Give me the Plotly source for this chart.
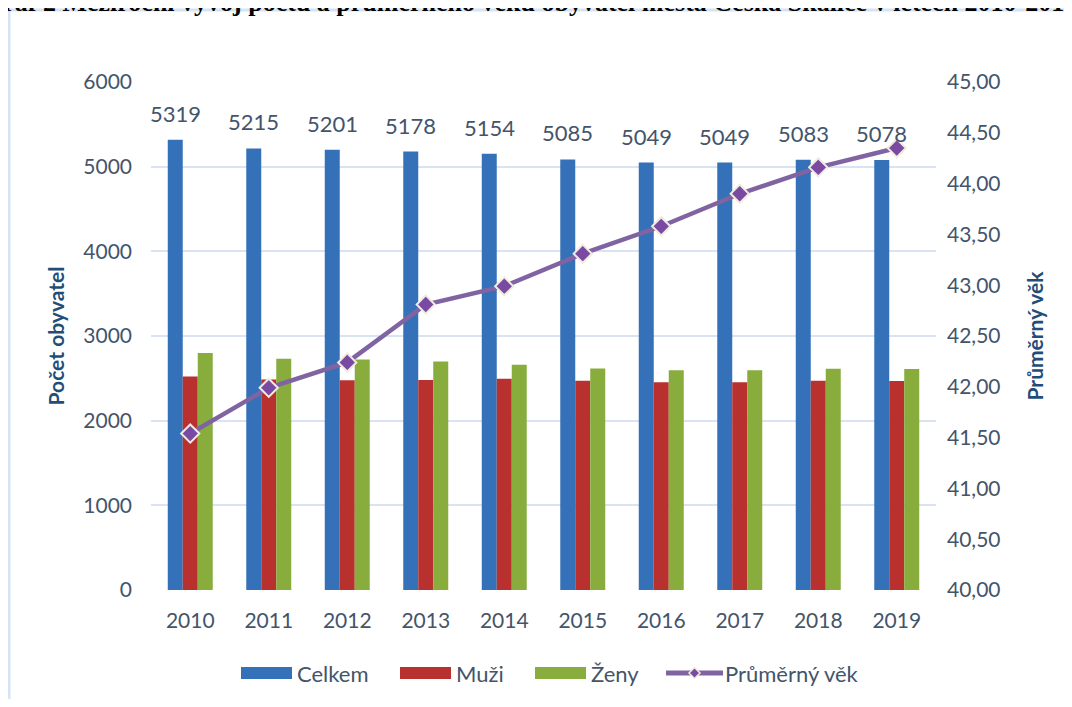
import plotly.graph_objects as go

years = ["2010", "2011", "2012", "2013", "2014", "2015", "2016", "2017", "2018", "2019"]
celkem = [5319, 5215, 5201, 5178, 5154, 5085, 5049, 5049, 5083, 5078]
muzi = [2521, 2485, 2478, 2480, 2494, 2470, 2455, 2455, 2470, 2468]
zeny = [2798, 2730, 2723, 2698, 2660, 2615, 2594, 2594, 2613, 2610]
vek = [41.54, 41.99, 42.24, 42.81, 42.99, 43.31, 43.58, 43.90, 44.16, 44.35]

left_ticks = [0, 1000, 2000, 3000, 4000, 5000, 6000]

BLUE = "#3571B8"
RED = "#B8312F"
GREEN = "#88AD3C"
PURPLE = "#8064A2"
TICK = "#44546A"
TITLE = "#1F4E79"
GRID = "#D9E3F1"
FONT = "Lato"

# the page puts the figure 8 px in from the top-left corner; keep the figure
# small enough to avoid scrollbars, plot area on screen pixels x 151..936, y 82..590
W, H = 1056, 691
L, T = 143, 74
PW, PH = 785, 508
R, B = W - L - PW, H - T - PH


def px(x):
    return (x - 151) / PW


def py(y):
    return (590 - y) / PH


fig = go.Figure()
fig.add_trace(go.Bar(x=years, y=celkem, name="Celkem", marker=dict(color=BLUE, line=dict(width=0))))
fig.add_trace(go.Bar(x=years, y=muzi, name="Muži", marker=dict(color=RED, line=dict(width=0))))
fig.add_trace(go.Bar(x=years, y=zeny, name="Ženy", marker=dict(color=GREEN, line=dict(width=0))))
fig.add_trace(go.Scatter(
    x=years, y=vek, name="Průměrný věk", yaxis="y2", mode="lines+markers",
    line=dict(color=PURPLE, width=4.5),
    marker=dict(symbol="diamond", size=14, color="#7A4AA3", line=dict(color="#EFEBDD", width=2)),
))

# data labels above Celkem bars (category axis -> annotation x is the category index)
for i, v in enumerate(celkem):
    fig.add_annotation(x=i, y=v, text=str(v), showarrow=False, yanchor="bottom",
                       xshift=-15, yshift=11, font=dict(family=FONT, size=22, color=TICK))

# chart-area frame: only the left and top edges show in the picture
FRAME = dict(color="#D6E3F4", width=3)
fig.add_shape(type="line", xref="paper", yref="paper", x0=px(9), x1=px(1070),
              y0=py(10), y1=py(10), line=FRAME, layer="below")
fig.add_shape(type="line", xref="paper", yref="paper", x0=px(9), x1=px(9),
              y0=py(10), y1=py(705), line=FRAME, layer="below")

# caption clipped at the top
fig.add_annotation(xref="paper", yref="paper", x=px(530), y=py(19), xanchor="center", yanchor="bottom",
                   text="<b>Graf 2 Meziroční vývoj počtu a průměrného věku obyvatel města Česká Skalice v letech 2010-2019</b>",
                   showarrow=False, font=dict(family="Liberation Serif", size=26, color="black"))

# legend drawn by hand to get Excel-like wide swatches
leg_y = 673
LEG_FONT = dict(family=FONT, size=22, color=TICK)
swatches = [("Celkem", BLUE, 241, 292), ("Muži", RED, 400, 451), ("Ženy", GREEN, 535, 586)]
for name, col, x0, x1 in swatches:
    fig.add_shape(type="rect", xref="paper", yref="paper", x0=px(x0), x1=px(x1),
                  y0=py(leg_y + 6), y1=py(leg_y - 6), fillcolor=col, line=dict(width=0))
    fig.add_annotation(xref="paper", yref="paper", x=px(x1 + 3), y=py(leg_y), xanchor="left",
                       yanchor="middle", text=name, showarrow=False, font=LEG_FONT)
fig.add_shape(type="line", xref="paper", yref="paper", x0=px(666), x1=px(723),
              y0=py(leg_y), y1=py(leg_y), line=dict(color=PURPLE, width=5))
cx, cy, d = 694.5, leg_y, 5.5
diamond = "M {} {} L {} {} L {} {} L {} {} Z".format(
    px(cx), py(cy - d), px(cx + d), py(cy), px(cx), py(cy + d), px(cx - d), py(cy))
fig.add_shape(type="path", xref="paper", yref="paper", path=diamond,
              fillcolor="#7A4AA3", line=dict(color="#EFEBDD", width=1.5))
fig.add_annotation(xref="paper", yref="paper", x=px(723), y=py(leg_y), xanchor="left",
                   yanchor="middle", text="Průměrný věk", showarrow=False, font=LEG_FONT)

fig.update_layout(
    width=W, height=H,
    margin=dict(l=L, r=R, t=T, b=B, autoexpand=False),
    paper_bgcolor="white", plot_bgcolor="white",
    separators=", ",
    showlegend=False,
    barmode="group", bargap=0.427, bargroupgap=0,
    font=dict(family=FONT, color=TICK),
    xaxis=dict(type="category", range=[-0.5, len(years) - 0.5], showgrid=False, showline=False,
               ticks="", tickfont=dict(family=FONT, size=21, color=TICK), ticklabelstandoff=16),
    yaxis=dict(range=[0, 6000], tickvals=left_ticks, tickformat="d",
               showgrid=True, gridcolor=GRID, gridwidth=1.5, zeroline=False,
               tickfont=dict(family=FONT, size=21, color=TICK), ticklabelstandoff=18,
               title=dict(text="<b>Počet obyvatel</b>", font=dict(family=FONT, size=21, color=TITLE),
                          standoff=12)),
    yaxis2=dict(range=[40, 45], dtick=0.5, tickformat=".2f", overlaying="y", side="right",
                showgrid=False, zeroline=False,
                tickfont=dict(family=FONT, size=21, color=TICK), ticklabelstandoff=10,
                title=dict(text="<b>Průměrný věk</b>", font=dict(family=FONT, size=21, color=TITLE),
                           standoff=28)),
)

fig.write_html("out.html")
